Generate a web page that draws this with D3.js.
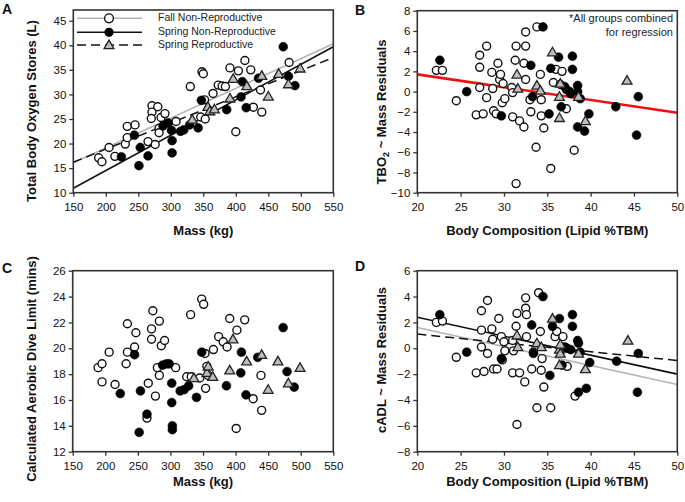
<!DOCTYPE html>
<html><head><meta charset="utf-8">
<script src="https://cdn.jsdelivr.net/npm/d3@7/dist/d3.min.js"></script>
<style>
body{margin:0;background:#fff;}
svg{font-family:"Liberation Sans",Arial,sans-serif;}
</style></head>
<body><svg id="c" width="685" height="502"></svg>
<script>
// ---- Data ----
const massTicks = [150,200,250,300,350,400,450,500,550];
const lipidTicks = [20,25,30,35,40,45,50];
const tboTicks = [10,15,20,25,30,35,40,45];
const residBTicks = [-10,-8,-6,-4,-2,0,2,4,6,8];
const cadlTicks = [12,14,16,18,20,22,24,26];
const residDTicks = [-8,-6,-4,-2,0,2,4,6];
const legendLabels = ["Fall Non-Reproductive","Spring Non-Reproductive","Spring Reproductive"];

// Panel A: mass (kg) vs total body oxygen stores (L)
const fallA = [[189,17.1],[194,16.3],[205,19.2],[214,17.4],[230,19.9],[233,21.2],[233,23.5],[245,23.8],[265,20.4],[271,27.7],[271,26.4],[270,25.1],[276,19.8],[280,27.5],[282,23.1],[282,22.2],[285,25.3],[291,26.1],[308,24.5],[330,31.6],[348,34.6],[350,34.2],[346,25.4],[353,25.0],[352,28.9],[365,30.2],[373,31.9],[379,31.7],[384,31.6],[391,35.4],[404,34.8],[400,22.4],[414,36.9],[423,35.0],[427,27.4],[438,30.9],[440,26.4],[482,36.5]];
const springA = [[224,17.3],[244,21.7],[251,15.5],[253,19.2],[265,17.5],[288,23.6],[296,24.2],[301,22.7],[302,20.6],[302,18.1],[315,22.5],[320,22.8],[329,23.8],[342,23.2],[347,28.8],[386,26.9],[408,29.5],[410,32.6],[416,27.3],[435,33.3],[473,39.7],[481,33.7],[491,31.8]];
const reproA = [[333,24.9],[357,27.5],[360,26.6],[367,27.0],[391,29.2],[396,33.2],[417,31.7],[440,33.8],[450,29.6],[466,34.2],[481,32.1],[499,35.3]];
const fallLineA = [[150,16.1],[550,40.3]];
const springLineA = [[150,10.9],[550,39.7]];
const reproLineA = [[150,16.2],[550,37.5]];

// Panel B: lipid %TBM vs TBO2~mass residuals
const fallB = [[22.2,2.1],[22.9,2.1],[24.5,-0.9],[26.8,-2.3],[27.2,3.6],[27.2,2.4],[27.2,0.4],[27.6,-2.2],[28.0,4.5],[28.0,-0.6],[28.6,1.9],[28.7,0.3],[28.8,-1.9],[29.1,-2.2],[29.3,2.8],[29.5,1.2],[29.6,1.7],[29.8,-1.1],[29.9,0.8],[30.1,-0.7],[30.9,0.4],[31.0,-2.5],[31.0,-0.1],[31.3,3.1],[31.4,4.5],[31.4,-9.1],[31.8,-2.9],[32.3,-3.5],[32.3,2.8],[32.5,4.5],[32.5,5.9],[32.5,1.2],[33.0,-0.8],[33.1,-2.0],[33.7,-5.5],[33.8,6.4],[34.2,1.7],[34.3,-2.4],[34.3,-0.8],[34.6,-3.6],[35.4,-7.6],[35.7,0.9],[36.0,2.2],[36.7,2.0],[36.5,0.7],[37.2,-1.7],[38.1,-5.8]];
const springB = [[22.6,3.1],[25.7,0.0],[29.7,-2.4],[33.1,2.6],[33.3,-0.5],[34.5,6.4],[35.2,-2.2],[35.4,2.3],[36.3,3.4],[36.6,-1.5],[37.0,0.5],[37.2,0.2],[37.6,0.0],[37.9,3.5],[37.9,2.2],[37.7,-0.2],[38.5,0.6],[38.5,0.0],[38.5,-3.5],[38.8,-0.7],[39.3,-3.9],[39.8,-2.2],[42.9,-1.5],[45.3,-4.3],[45.5,-0.5]];
const reproB = [[31.5,1.7],[31.6,0.3],[33.8,0.6],[34.2,0.1],[35.6,3.9],[36.4,-0.5],[36.5,0.8],[36.4,-2.6],[38.6,-0.5],[39.4,-2.9],[44.2,1.1]];
const allLineB = [[20,1.7],[50,-2.1]];

// Panel C: mass (kg) vs calculated aerobic dive limit (mins)
const fallC = [[189,18.5],[195,18.8],[195,17.4],[206,19.7],[215,17.2],[232,18.8],[234,21.9],[234,19.7],[245,20.1],[247,21.2],[266,17.3],[264,14.6],[271,20.7],[271,21.5],[273,22.9],[277,16.3],[280,18.5],[283,22.1],[283,17.9],[286,20.2],[291,20.6],[308,18.5],[325,17.8],[332,17.8],[331,22.6],[345,17.7],[348,23.8],[351,23.4],[353,19.6],[354,16.9],[356,18.6],[358,17.9],[366,19.9],[374,20.9],[381,20.5],[387,20.1],[391,22.3],[402,21.4],[401,13.8],[414,22.2],[427,16.1],[439,17.9],[440,15.2]];
const springC = [[223,16.5],[245,19.5],[252,13.5],[254,16.7],[264,14.9],[288,18.7],[294,18.8],[298,18.8],[302,17.3],[302,15.8],[303,14.0],[303,13.7],[315,16.7],[321,16.8],[328,17.1],[340,16.2],[348,19.7],[386,17.1],[408,18.1],[409,19.7],[416,16.4],[434,19.3],[473,21.6],[479,18.2],[490,17.0]];
const reproC = [[336,17.7],[356,18.1],[358,18.6],[365,17.8],[391,18.3],[396,20.7],[417,19.0],[440,19.5],[450,16.8],[465,19.0],[481,17.3],[499,18.5]];

// Panel D: lipid %TBM vs cADL~mass residuals
const fallD = [[22.2,2.0],[22.9,2.1],[24.5,-0.7],[26.8,-1.9],[27.4,2.9],[27.4,1.4],[27.4,0.1],[27.7,-1.8],[28.1,-0.4],[28.1,3.7],[28.6,1.5],[28.7,0.7],[28.8,-1.6],[29.2,-1.6],[29.4,2.3],[29.7,0.9],[29.8,-0.9],[30.0,0.5],[30.1,-0.2],[31.0,-1.9],[31.0,0.6],[31.1,-0.2],[31.4,1.7],[31.5,2.7],[31.5,-5.9],[31.8,-1.9],[32.4,-2.6],[32.5,3.1],[32.6,2.6],[32.5,3.9],[32.6,0.9],[33.2,-1.6],[33.4,-0.3],[33.8,-4.6],[34.0,4.3],[34.2,1.3],[34.3,-1.7],[34.4,-0.8],[34.6,-3.0],[35.4,-4.6],[35.9,0.9],[36.1,1.3],[36.8,0.9],[37.3,-1.4],[38.2,-3.7]];
const springD = [[22.6,2.6],[25.7,-0.3],[29.7,-0.8],[33.2,1.8],[33.4,-0.4],[34.5,4.0],[35.3,-2.1],[35.6,1.7],[36.4,2.3],[36.7,-1.3],[37.0,0.1],[37.3,0.0],[37.7,-0.1],[37.9,2.6],[37.9,1.7],[38.5,0.6],[38.6,0.4],[38.6,-3.4],[38.8,-0.3],[39.5,-3.1],[39.9,-1.1],[43.0,-1.0],[45.4,-3.4],[45.5,-0.4]];
const reproD = [[31.5,1.0],[31.6,0.1],[33.8,0.4],[34.3,0.1],[35.6,2.3],[36.4,-0.1],[36.5,0.3],[36.4,-1.3],[36.5,-0.4],[38.6,-0.4],[39.4,-1.6],[44.3,0.6]];
const fallLineD = [[20,1.6],[50,-2.8]];
const springLineD = [[20,2.4],[50,-2.0]];
const reproLineD = [[20,1.1],[50,-0.95]];

// ---- Drawing ----
const svg = d3.select("#c");
const FRAME = "#333";

function panel(o){
  const g = svg.append("g");
  const x = d3.scaleLinear().domain(o.xd).range([o.l,o.r]);
  const y = d3.scaleLinear().domain(o.yd).range([o.b,o.t]);
  // lines
  const line = d3.line().x(d=>x(d[0])).y(d=>y(d[1]));
  (o.lines||[]).forEach(L=>{
    g.append("path").attr("d",line(L.data)).attr("fill","none")
     .attr("stroke",L.color).attr("stroke-width",L.w||1.5)
     .attr("stroke-dasharray",L.dash||null);
  });
  // points
  const tri = d3.symbol().type(d3.symbolTriangle).size(42);
  g.selectAll(".f").data(o.fall).join("circle")
   .attr("cx",d=>x(d[0])).attr("cy",d=>y(d[1])).attr("r",4)
   .attr("fill","#fff").attr("stroke","#111").attr("stroke-width",1.4);
  g.selectAll(".s").data(o.spring).join("circle")
   .attr("cx",d=>x(d[0])).attr("cy",d=>y(d[1])).attr("r",4.4)
   .attr("fill","#000").attr("stroke","#000").attr("stroke-width",0.6);
  g.selectAll(".r").data(o.repro).join("path")
   .attr("d",tri).attr("transform",d=>`translate(${x(d[0])},${y(d[1])+0.8})`)
   .attr("fill","#bdbdbd").attr("stroke","#222").attr("stroke-width",1.3);
  // frame
  g.append("rect").attr("x",o.l).attr("y",o.t).attr("width",o.r-o.l).attr("height",o.b-o.t)
   .attr("fill","none").attr("stroke",FRAME).attr("stroke-width",1.6);
  // axes
  const ax = g.append("g").attr("transform",`translate(0,${o.b})`)
    .call(d3.axisBottom(x).tickValues(o.xt).tickSize(4).tickPadding(6).tickFormat(d3.format("d")));
  const ay = g.append("g").attr("transform",`translate(${o.l},0)`)
    .call(d3.axisLeft(y).tickValues(o.yt).tickSize(4).tickPadding(3).tickFormat(d3.format("d")));
  [ax,ay].forEach(a=>{
    a.select(".domain").remove();
    a.selectAll("line").attr("stroke",FRAME).attr("stroke-width",1.3);
    a.selectAll("text").attr("font-size",11.5).attr("fill","#111").attr("font-family","Liberation Sans, Arial, sans-serif");
  });
  // titles
  g.append("text").attr("x",(o.l+o.r)/2).attr("y",o.xTitleY).attr("text-anchor","middle")
   .attr("font-size",13).attr("font-weight","bold").attr("fill","#111").attr("dominant-baseline","middle").text(o.xTitle);
  const yt = g.append("text").attr("transform",`translate(${o.yTitleX},${o.yTitleCY}) rotate(-90)`)
   .attr("text-anchor","middle").attr("font-size",13).attr("font-weight","bold").attr("fill","#111")
   .attr("dominant-baseline","middle");
  if(o.yTitleParts){ o.yTitleParts.forEach(p=>{ const t=yt.append("tspan").text(p.t); if(p.sub){t.attr("font-size",9).attr("dy",4);} else if(p.after){t.attr("dy",-4);} }); }
  else yt.text(o.yTitle);
  g.append("text").attr("x",o.letterX).attr("y",o.letterY).attr("font-size",14).attr("font-weight","bold").attr("fill","#111").text(o.letter);
  return {g,x,y};
}

const A = panel({l:73.3,r:333.3,t:10,b:192.7,xd:[150,550],yd:[10,47.18],xt:massTicks,yt:tboTicks,
  fall:fallA,spring:springA,repro:reproA,
  lines:[{data:fallLineA,color:"#b5b5b5",w:1.6},{data:springLineA,color:"#111",w:1.6},{data:reproLineA,color:"#111",w:1.5,dash:"9,5"}],
  xTitle:"Mass (kg)",xTitleY:232,yTitle:"Total Body Oxygen Stores (L)",yTitleX:33,yTitleCY:111,letter:"A",letterX:2,letterY:14});

// Legend in A
const legY = [18.3,32.3,45];
const lg = A.g.append("g");
const legStyles = [{color:"#b5b5b5",dash:null},{color:"#111",dash:null},{color:"#111",dash:"9,5"}];
legendLabels.forEach((lab,i)=>{
  lg.append("line").attr("x1",77).attr("x2",142).attr("y1",legY[i]).attr("y2",legY[i])
    .attr("stroke",legStyles[i].color).attr("stroke-width",1.6).attr("stroke-dasharray",legStyles[i].dash);
  if(i===0) lg.append("circle").attr("cx",109).attr("cy",legY[i]).attr("r",4.4).attr("fill","#fff").attr("stroke","#111").attr("stroke-width",1.4);
  if(i===1) lg.append("circle").attr("cx",109).attr("cy",legY[i]).attr("r",4.6).attr("fill","#000");
  if(i===2) lg.append("path").attr("d",d3.symbol().type(d3.symbolTriangle).size(42)).attr("transform",`translate(109,${legY[i]+0.8})`)
    .attr("fill","#bdbdbd").attr("stroke","#222").attr("stroke-width",1.3);
  lg.append("text").attr("x",158).attr("y",legY[i]).attr("dominant-baseline","middle")
    .attr("font-size",10.5).attr("fill","#222").text(lab);
});

const B = panel({l:417.3,r:677.3,t:10.7,b:192.7,xd:[20,50],yd:[-10,8],xt:lipidTicks,yt:residBTicks,
  fall:fallB,spring:springB,repro:reproB,
  lines:[{data:allLineB,color:"#ee1111",w:2.6}],
  xTitle:"Body Composition (Lipid %TBM)",xTitleY:232,yTitleParts:[{t:"TBO"},{t:"2",sub:true},{t:" ~ Mass Residuals",after:true}],yTitleX:383,yTitleCY:112,letter:"B",letterX:355,letterY:15});
B.g.append("text").attr("x",673).attr("y",19.5).attr("text-anchor","end").attr("dominant-baseline","middle")
  .attr("font-size",11).attr("fill","#222").text("*All groups combined");
B.g.append("text").attr("x",673).attr("y",32.8).attr("text-anchor","end").attr("dominant-baseline","middle")
  .attr("font-size",11).attr("fill","#222").text("for regression");

panel({l:72.7,r:333.3,t:270.7,b:451.7,xd:[150,550],yd:[12,26],xt:massTicks,yt:cadlTicks,
  fall:fallC,spring:springC,repro:reproC,lines:[],
  xTitle:"Mass (kg)",xTitleY:483,yTitle:"Calculated Aerobic Dive Limit (mins)",yTitleX:33,yTitleCY:369,letter:"C",letterX:2,letterY:273});

panel({l:417.3,r:677.3,t:270.7,b:451.7,xd:[20,50],yd:[-8,6],xt:lipidTicks,yt:residDTicks,
  fall:fallD,spring:springD,repro:reproD,
  lines:[{data:fallLineD,color:"#b5b5b5",w:1.6},{data:springLineD,color:"#111",w:1.6},{data:reproLineD,color:"#111",w:1.5,dash:"9,5"}],
  xTitle:"Body Composition (Lipid %TBM)",xTitleY:483,yTitle:"cADL ~ Mass Residuals",yTitleX:383,yTitleCY:360,letter:"D",letterX:355,letterY:271});
</script></body></html>
